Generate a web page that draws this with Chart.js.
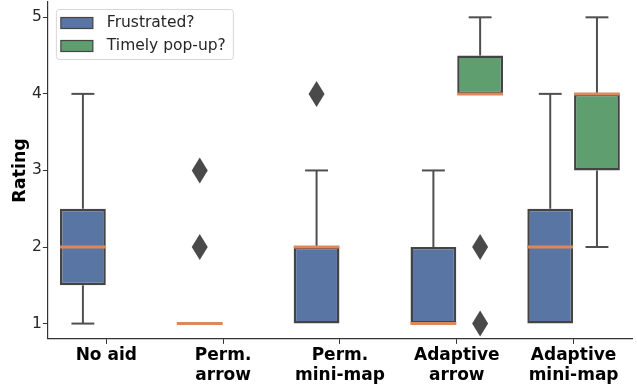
<!DOCTYPE html>
<html>
<head>
<meta charset="utf-8">
<script src="https://cdn.jsdelivr.net/npm/chart.js@4/dist/chart.umd.min.js"></script>
<style>
  html, body { margin: 0; padding: 0; background: #fff; }
  #wrap { width: 637px; height: 387px; }
</style>
</head>
<body>
<div id="wrap"><canvas id="chart" width="637" height="387"></canvas></div>
<script>
// categories and y ticks
const categories = ["No aid", ["Perm.", "arrow"], ["Perm.", "mini-map"], ["Adaptive", "arrow"], ["Adaptive", "mini-map"]];
const yTicks = [1, 2, 3, 4, 5];

// "Frustrated?" box stats
const frustratedLow = [1, 1, 1, 1, 1];
const frustratedQ1 = [1.5, 1, 1, 1, 1];
const frustratedMedian = [2, 1, 2, 1, 2];
const frustratedQ3 = [2.5, 1, 2, 2, 2.5];
const frustratedHigh = [4, 1, 3, 3, 4];
const frustratedOutliers = [[], [2, 3], [4], [], []];

// "Timely pop-up?" box stats (only asked for adaptive aids)
const popupLow = [null, null, null, 4, 2];
const popupQ1 = [null, null, null, 4, 3];
const popupMedian = [null, null, null, 4, 4];
const popupQ3 = [null, null, null, 4.5, 4];
const popupHigh = [null, null, null, 5, 5];
const popupOutliers = [[], [], [], [1, 2], []];

const BLUE = "#5975a4";
const GREEN = "#5f9e6e";
const EDGE = "#444";
const MEDIAN = "#e0875a";

const stats = [
  { low: frustratedLow, q1: frustratedQ1, med: frustratedMedian, q3: frustratedQ3, high: frustratedHigh, out: frustratedOutliers },
  { low: popupLow, q1: popupQ1, med: popupMedian, q3: popupQ3, high: popupHigh, out: popupOutliers }
];

function boxes(q1, q3) {
  return q1.map((v, i) => (v === null ? null : [v, q3[i]]));
}

// whiskers, medians, outliers and the legend
const boxExtras = {
  id: "boxExtras",
  afterDatasetsDraw(chart) {
    const ctx = chart.ctx;
    const y = chart.scales.y;
    stats.forEach((s, di) => {
      const meta = chart.getDatasetMeta(di);
      meta.data.forEach((bar, i) => {
        if (s.med[i] === null) return;
        const x = bar.x;
        const w = bar.width;
        ctx.save();
        ctx.strokeStyle = "#4f4f4f";
        ctx.lineWidth = 2;
        // whiskers
        [[s.q3[i], s.high[i]], [s.q1[i], s.low[i]]].forEach(([a, b]) => {
          if (a === b) return;
          ctx.beginPath();
          ctx.moveTo(x, y.getPixelForValue(a));
          ctx.lineTo(x, y.getPixelForValue(b));
          ctx.stroke();
          ctx.beginPath();
          ctx.moveTo(x - w / 4, y.getPixelForValue(b));
          ctx.lineTo(x + w / 4, y.getPixelForValue(b));
          ctx.stroke();
        });
        // median
        ctx.strokeStyle = MEDIAN;
        ctx.lineWidth = 3;
        ctx.beginPath();
        ctx.moveTo(x - w / 2, y.getPixelForValue(s.med[i]));
        ctx.lineTo(x + w / 2, y.getPixelForValue(s.med[i]));
        ctx.stroke();
        // outliers (diamonds)
        ctx.fillStyle = "#4a4a4a";
        s.out[i].forEach(v => {
          const py = y.getPixelForValue(v);
          ctx.beginPath();
          ctx.moveTo(x, py - 13);
          ctx.lineTo(x + 8, py);
          ctx.lineTo(x, py + 13);
          ctx.lineTo(x - 8, py);
          ctx.closePath();
          ctx.fill();
        });
        ctx.restore();
      });
    });

    // legend
    const area = chart.chartArea;
    const lx = area.left + 8, ly = 9;
    ctx.save();
    ctx.fillStyle = "rgba(255,255,255,0.8)";
    ctx.strokeStyle = "#d6d6d6";
    ctx.lineWidth = 1;
    ctx.beginPath();
    ctx.roundRect(lx + 0.5, ly + 0.5, 177, 50, 3);
    ctx.fill();
    ctx.stroke();
    const items = [["Frustrated?", BLUE], ["Timely pop-up?", GREEN]];
    ctx.font = "15.5px 'DejaVu Sans'";
    ctx.textBaseline = "middle";
    items.forEach(([label, color], k) => {
      const cy = ly + 14 + k * 23;
      ctx.fillStyle = color;
      ctx.fillRect(lx + 5, cy - 5.5, 32, 11);
      ctx.strokeStyle = EDGE;
      ctx.lineWidth = 1.2;
      ctx.strokeRect(lx + 5, cy - 5.5, 32, 11);
      ctx.fillStyle = "#262626";
      ctx.fillText(label, lx + 51, cy);
    });
    ctx.restore();
  }
};

new Chart(document.getElementById("chart"), {
  type: "bar",
  data: {
    labels: categories,
    datasets: [
      { label: "Frustrated?", data: boxes(frustratedQ1, frustratedQ3), backgroundColor: BLUE, borderColor: EDGE, borderWidth: 2.5, borderSkipped: false },
      { label: "Timely pop-up?", data: boxes(popupQ1, popupQ3), backgroundColor: GREEN, borderColor: EDGE, borderWidth: 2.5, borderSkipped: false }
    ]
  },
  options: {
    responsive: false,
    animation: false,
    categoryPercentage: 0.8,
    barPercentage: 0.98,
    layout: { padding: { left: 0, right: 5, top: 2, bottom: 0 } },
    plugins: { legend: { display: false }, tooltip: { enabled: false } },
    scales: {
      x: {
        grid: { drawOnChartArea: false, tickLength: 5, color: "#333", offset: false },
        border: { color: "#333", width: 1.2 },
        ticks: { color: "#000", font: { family: "DejaVu Sans", size: 17, weight: "bold", lineHeight: 1.15 }, padding: 2, maxRotation: 0 }
      },
      y: {
        min: 0.8,
        max: 5.2,
        afterBuildTicks: axis => { axis.ticks = yTicks.map(v => ({ value: v })); },
        afterFit: axis => { axis.paddingTop = 0; axis.paddingBottom = 0; },
        grid: { drawOnChartArea: false, tickLength: 5, color: "#333" },
        border: { color: "#333", width: 1.2 },
        ticks: { color: "#262626", font: { family: "DejaVu Sans", size: 15.5 }, padding: 1 },
        title: { display: true, text: "Rating", color: "#000", font: { family: "DejaVu Sans", size: 17.5, weight: "bold" }, padding: { top: 10, bottom: 0 } }
      }
    }
  },
  plugins: [boxExtras]
});
</script>
</body>
</html>
